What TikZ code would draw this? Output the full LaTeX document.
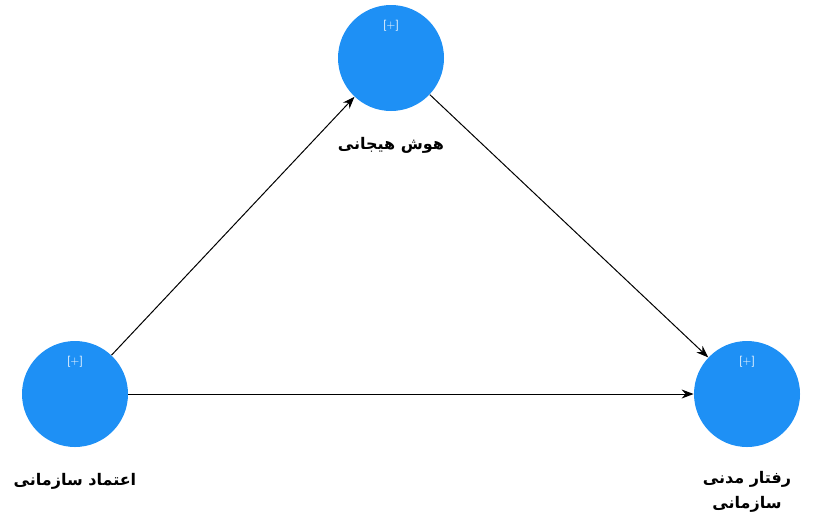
\documentclass[tikz,border=0pt]{standalone}
\usepackage{fontspec}
\newfontfamily\arabicfont[Script=Arabic]{DejaVu Sans}
\TeXXeTstate=1
\usetikzlibrary{positioning,arrows.meta}
\definecolor{latentblue}{RGB}{30,144,245}
\tikzset{
  latent/.style={circle,fill=latentblue,minimum size=53pt,inner sep=0pt},
  plus/.style={text=white!92!latentblue,font=\sffamily\fontsize{5.5}{6}\selectfont},
  lbl/.style={font=\arabicfont\bfseries\fontsize{8}{12.5}\selectfont,align=center,inner sep=1pt},
  path/.style={->,line width=0.5pt}
}
\begin{document}
\begin{tikzpicture}[>={Stealth[length=6pt,width=4.5pt]},x=0.5pt,y=-0.5pt]
    \useasboundingbox (0,0) rectangle (817,515);
    % Sazeh-ha
    \node[latent] (hoosh) at (391,58) {};
    \node[latent] (etemad) at (75,394) {};
    \node[latent] (raftar) at (747,394) {};
    % Alamat [+]
    \node[plus] at ([yshift=16pt]hoosh.center) {[+]};
    \node[plus] at ([yshift=16pt]etemad.center) {[+]};
    \node[plus] at ([yshift=16pt]raftar.center) {[+]};
    % Barchasb-ha
    \node[lbl,below=12pt of hoosh] (hooshlbl) {\beginR هوش هیجانی\endR};
    \node[lbl,below=12pt of etemad] (etemadlbl) {\beginR اعتماد سازمانی\endR};
    \node[lbl,below=11pt of raftar] (raftarlbl) {\beginR رفتار مدنی\endR\\\beginR سازمانی\endR};
    % Masir-ha
    \draw[path] (etemad) -- (hoosh);
    \draw[path] (hoosh) -- (raftar);
    \draw[path] (etemad) -- (raftar);
\end{tikzpicture}
\end{document}
